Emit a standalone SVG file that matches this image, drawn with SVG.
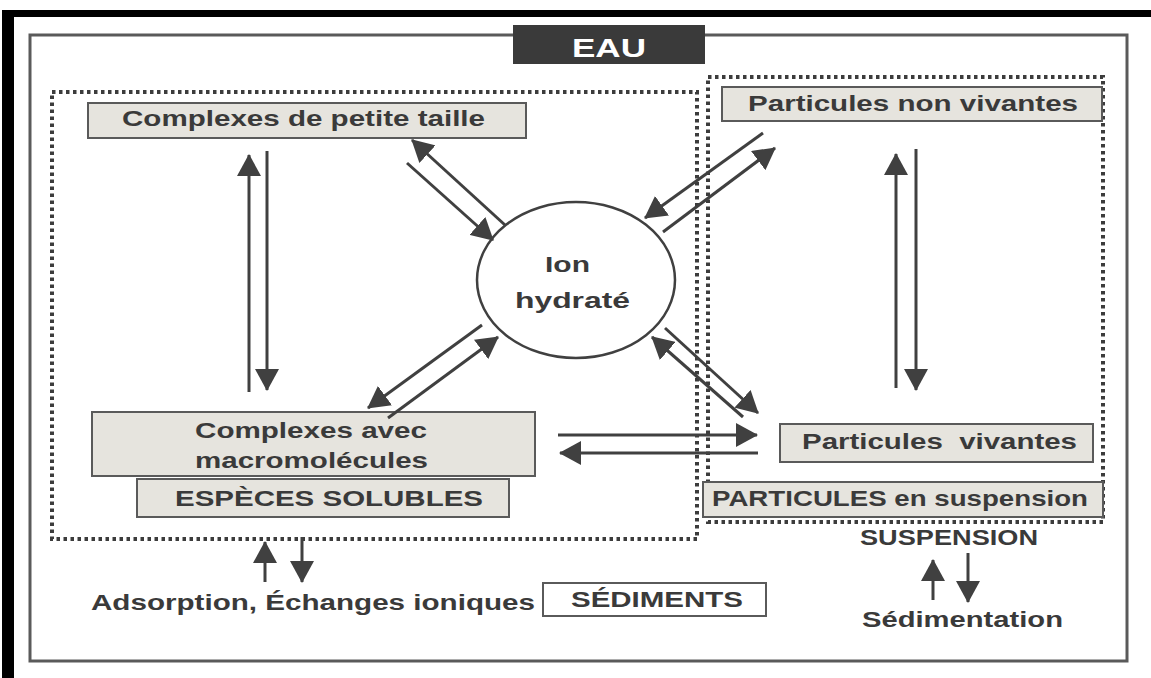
<svg xmlns="http://www.w3.org/2000/svg" width="1151" height="678" viewBox="0 0 1151 678">
<style>
.box{fill:#e6e4de;stroke:#5a5a5a;stroke-width:2}
.dot{fill:none;stroke:#3c3c3c;stroke-width:4;stroke-dasharray:3.5 3.5}
.t{font-family:"Liberation Sans",Arial,sans-serif;font-weight:bold;font-size:22px;fill:#3a3a3a}
.ar{stroke:#404040;stroke-width:3;fill:none;marker-end:url(#ah)}
</style>
<defs>
<marker id="ah" markerUnits="userSpaceOnUse" viewBox="0 0 22 24" markerWidth="22" markerHeight="24" refX="21" refY="12" orient="auto">
<path d="M0,0 L22,12 L0,24 z" fill="#404040"/>
</marker>
</defs>
<rect width="1151" height="678" fill="#ffffff"/>
<g id="frame">
<rect x="7" y="10" width="1144" height="7" fill="#000"/>
<rect x="2" y="10" width="12" height="668" fill="#000"/>
<rect x="30" y="35" width="1097" height="626" fill="none" stroke="#5a5a5a" stroke-width="3"/>
</g>
<g id="eau">
<rect x="513" y="25" width="192" height="39" fill="#3a3a3a"/>
<text class="t" x="572" y="57" style="fill:#fff;font-size:26px" textLength="74" lengthAdjust="spacingAndGlyphs">EAU</text>
</g>
<g id="especes-solubles-zone">
<rect class="dot" x="52" y="92" width="645" height="447"/>
</g>
<g id="particules-zone">
<rect class="dot" x="708" y="77" width="395" height="445"/>
</g>
<g id="complexes-petite">
<rect class="box" x="88" y="103" width="438" height="35"/>
<text class="t" x="122" y="126" textLength="363" lengthAdjust="spacingAndGlyphs">Complexes de petite taille</text>
</g>
<g id="particules-non-vivantes">
<rect class="box" x="722" y="87" width="380" height="34"/>
<text class="t" x="748" y="111" textLength="330" lengthAdjust="spacingAndGlyphs">Particules non vivantes</text>
</g>
<g id="ion-hydrate">
<ellipse cx="576" cy="280" rx="99" ry="78" fill="#fff" stroke="#404040" stroke-width="2.5"/>
<text class="t" x="545" y="272" textLength="45" lengthAdjust="spacingAndGlyphs">Ion</text>
<text class="t" x="515" y="308" textLength="115" lengthAdjust="spacingAndGlyphs">hydraté</text>
</g>
<g id="complexes-macro">
<rect class="box" x="92" y="412" width="443" height="64"/>
<text class="t" x="195" y="438" textLength="232" lengthAdjust="spacingAndGlyphs">Complexes avec</text>
<text class="t" x="195" y="468" textLength="233" lengthAdjust="spacingAndGlyphs">macromolécules</text>
</g>
<g id="especes-solubles">
<rect class="box" x="137" y="479" width="372" height="38"/>
<text class="t" x="175" y="506" textLength="308" lengthAdjust="spacingAndGlyphs">ESPÈCES SOLUBLES</text>
</g>
<g id="particules-vivantes">
<rect class="box" x="780" y="424" width="313" height="38"/>
<text class="t" x="802" y="449" style="white-space:pre" textLength="275" lengthAdjust="spacingAndGlyphs">Particules  vivantes</text>
</g>
<g id="particules-suspension">
<rect class="box" x="703" y="482" width="400" height="35"/>
<text class="t" x="712" y="506" textLength="376" lengthAdjust="spacingAndGlyphs">PARTICULES en suspension</text>
</g>
<g id="sediments">
<rect x="543" y="583" width="223" height="33" fill="#fff" stroke="#5a5a5a" stroke-width="2"/>
<text class="t" x="571" y="607" textLength="172" lengthAdjust="spacingAndGlyphs">SÉDIMENTS</text>
</g>
<g id="labels">
<text class="t" x="91" y="610" textLength="444" lengthAdjust="spacingAndGlyphs">Adsorption, Échanges ioniques</text>
<text class="t" x="860" y="545" textLength="178" lengthAdjust="spacingAndGlyphs">SUSPENSION</text>
<text class="t" x="862" y="627" textLength="201" lengthAdjust="spacingAndGlyphs">Sédimentation</text>
</g>
<g id="connectors">
<line class="ar" x1="249" y1="392" x2="249" y2="155"/>
<line class="ar" x1="267" y1="151" x2="267" y2="390"/>
<line class="ar" x1="896" y1="388" x2="896" y2="154"/>
<line class="ar" x1="916" y1="149" x2="916" y2="390"/>
<line class="ar" x1="505" y1="225" x2="412" y2="140"/>
<line class="ar" x1="407" y1="163" x2="493" y2="240"/>
<line class="ar" x1="763" y1="133" x2="645" y2="218"/>
<line class="ar" x1="663" y1="232" x2="775" y2="148"/>
<line class="ar" x1="482" y1="325" x2="368" y2="408"/>
<line class="ar" x1="388" y1="418" x2="498" y2="337"/>
<line class="ar" x1="743" y1="417" x2="652" y2="337"/>
<line class="ar" x1="665" y1="328" x2="758" y2="413"/>
<line class="ar" x1="558" y1="435" x2="757" y2="435"/>
<line class="ar" x1="758" y1="453" x2="560" y2="453"/>
<line class="ar" x1="265" y1="582" x2="265" y2="542"/>
<line class="ar" x1="302" y1="537" x2="302" y2="582"/>
<line class="ar" x1="933" y1="600" x2="933" y2="560"/>
<line class="ar" x1="968" y1="553" x2="968" y2="602"/>
</g>
</svg>
